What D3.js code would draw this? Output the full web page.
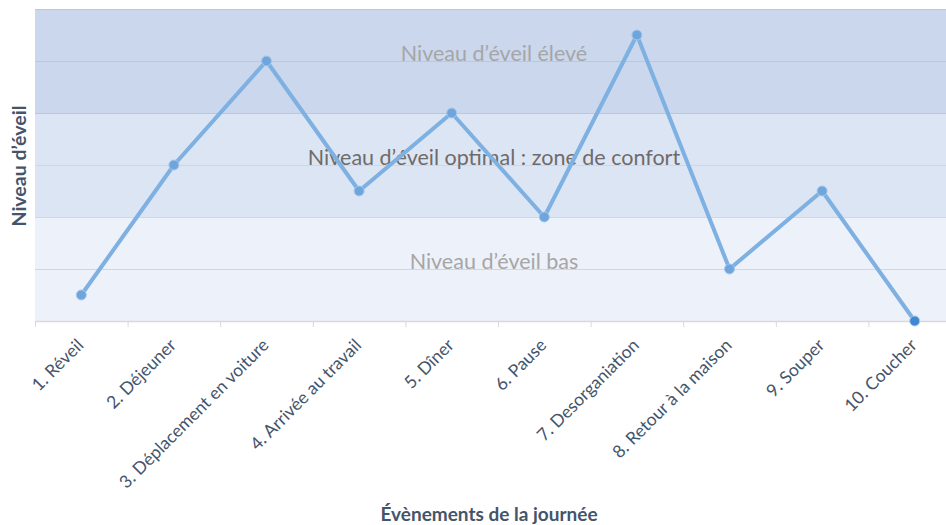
<!DOCTYPE html>
<html><head><meta charset="utf-8">
<script src="https://cdn.jsdelivr.net/npm/d3@7"></script>
<style>body{margin:0;background:#fff}svg{display:block}</style>
</head><body>
<svg id="c" width="946" height="525"></svg>
<script>
const categories = ["1. Réveil","2. Déjeuner","3. Déplacement en voiture","4. Arrivée au travail","5. Dîner","6. Pause","7. Desorganiation","8. Retour à la maison","9. Souper","10. Coucher"];
const values = [0.5, 3, 5, 2.5, 4, 2, 5.5, 1, 2.5, 0];
const bandLabels = ["Niveau d’éveil bas","Niveau d’éveil optimal : zone de confort","Niveau d’éveil élevé"];
const bandRanges = [[0,2],[2,4],[4,6]];
const bandLabelLevels = [1.15, 3.15, 5.15];
const bandColors = ["#edf1f9","#dce5f3","#cad7ed"];
const yTicks = [0,1,2,3,4,5,6];
const xTitle = "Évènements de la journée";
const yTitle = "Niveau d’éveil";

const svg = d3.select("#c");
const font = "Lato, 'Open Sans', sans-serif";
const x = d3.scaleBand().domain(categories).range([35, 961]);
const y = d3.scaleLinear().domain([0,6]).range([321, 9]);

svg.selectAll("rect.band").data(bandRanges).join("rect")
  .attr("x", 35).attr("width", 961-35)
  .attr("y", d => y(d[1])).attr("height", d => y(d[0]) - y(d[1]))
  .attr("fill", (d,i) => bandColors[i]);

svg.selectAll("line.grid").data(yTicks.slice(1)).join("line")
  .attr("x1", 35).attr("x2", 961)
  .attr("y1", d => y(d)+0.5).attr("y2", d => y(d)+0.5)
  .attr("stroke", d => d >= 4 ? "#b7c8e6" : "#cdd7ea").attr("stroke-width", 1);

const labelFill = ["#a6a6a6", "#6f6b6b", "#a6a6a6"];
svg.selectAll("text.bl").data(bandLabelLevels).join("text")
  .attr("x", 494).attr("y", d => y(d))
  .attr("text-anchor", "middle").attr("dominant-baseline", "central")
  .attr("font-family", font).attr("font-size", 21.5)
  .attr("fill", (d,i)=>labelFill[i])
  .text((d,i) => bandLabels[i]);

const xAxis = d3.axisBottom(x).tickSize(0).tickPadding(0);
const gx = svg.append("g").attr("transform", `translate(0,${y(0)})`).call(xAxis);
gx.select(".domain").attr("stroke", "#d9d9d9").attr("stroke-width", 1.5);
svg.selectAll("line.tk").data(categories).join("line")
  .attr("x1", d => x(d)+0.5).attr("x2", d => x(d)+0.5)
  .attr("y1", y(0)).attr("y2", y(0)+6).attr("stroke", "#d9d9d9");
gx.selectAll(".tick text")
  .attr("font-family", font).attr("font-size", 17.5).attr("fill", "#44546a")
  .attr("text-anchor", "end")
  .attr("transform", "translate(-1,21) rotate(-45)")
  .attr("dy", "0.35em").attr("y", 0);

const line = d3.line().x((d,i) => x(categories[i]) + x.bandwidth()/2).y(d => y(d));
svg.append("path").datum(values).attr("d", line)
  .attr("fill", "none").attr("stroke", "#7eb0e1").attr("stroke-width", 4)
  .attr("stroke-linejoin", "round");
svg.selectAll("circle.pt").data(values).join("circle")
  .attr("cx", (d,i) => x(categories[i]) + x.bandwidth()/2)
  .attr("cy", d => y(d)).attr("r", 5)
  .attr("fill", (d,i) => i===9 ? "#3f87d2" : "#6fa5dd")
  .attr("stroke", "#a8c8ea").attr("stroke-width", 1);

svg.append("text").attr("x", 489).attr("y", 521).attr("text-anchor", "middle")
  .attr("font-family", font).attr("font-weight", "bold").attr("font-size", 19)
  .attr("fill", "#44546a").text(xTitle);
svg.append("text").attr("transform", "translate(26,166) rotate(-90)").attr("text-anchor", "middle")
  .attr("font-family", font).attr("font-weight", "bold").attr("font-size", 19.5)
  .attr("fill", "#44546a").text(yTitle);
</script>
</body></html>
